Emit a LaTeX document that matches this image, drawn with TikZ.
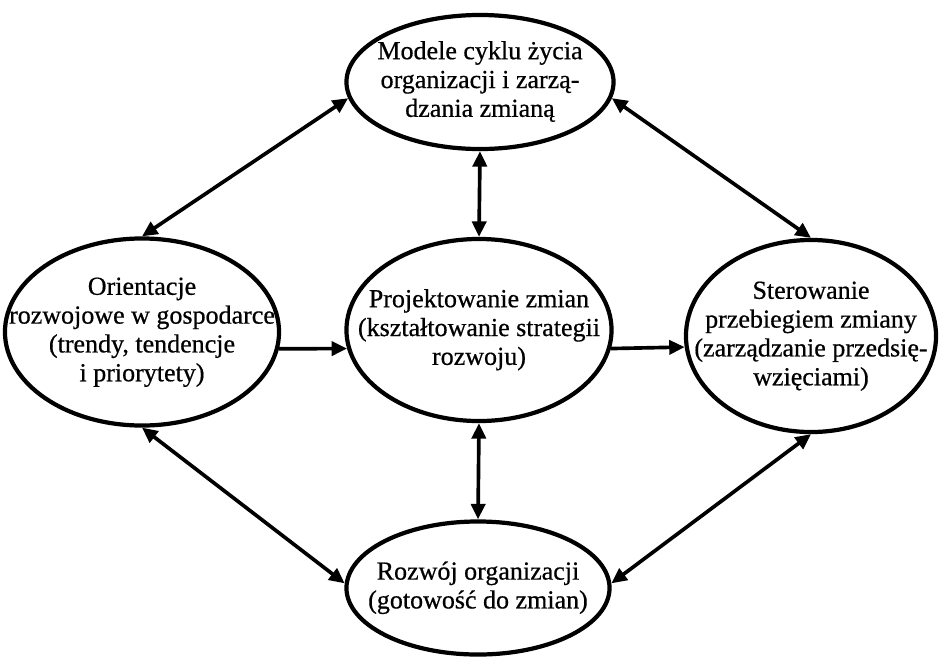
\documentclass[tikz,border=0pt]{standalone}
\usepackage{fontspec}
\setmainfont{Liberation Serif}
\newfontfamily\ovalfont{Liberation Serif}[FakeBold=0.6]
\usetikzlibrary{shapes,arrows.meta,positioning}
\newcommand{\ovaltext}[1]{\makebox[0pt]{\raisebox{-4.5pt}[0pt][0pt]{\begin{tabular}{@{}c@{}}#1\end{tabular}}}}

\begin{document}
\begin{tikzpicture}[x=0.025cm, y=-0.025cm,
  oval/.style={draw, ellipse, line width=3pt, inner sep=0pt, font=\ovalfont\fontsize{18.5}{20.5}\selectfont},
  link/.style={line width=2.6pt, -{Triangle[length=11pt,width=10pt]}},
  both/.style={link, {Triangle[length=11pt,width=10pt]}-{Triangle[length=11pt,width=10pt]}}]
\useasboundingbox (0,0) rectangle (942,660);
\node[oval, minimum width=6.675cm, minimum height=3.35cm] (t) at (480,82) {\ovaltext{Modele cyklu życia\\organizacji i zarzą-\\dzania zmianą}};
\node[oval, minimum width=6.85cm, minimum height=4.675cm] (l) at (142,332) {\ovaltext{Orientacje\\rozwojowe w gospodarce\\(trendy, tendencje\\i priorytety)}};
\node[oval, minimum width=6.625cm, minimum height=4.55cm] (m) at (479,330) {\ovaltext{Projektowanie zmian\\(kształtowanie strategii\\rozwoju)}};
\node[oval, minimum width=6.25cm, minimum height=4.8cm] (r) at (811,336) {\ovaltext{Sterowanie\\przebiegiem zmiany\\(zarządzanie przedsię-\\wzięciami)}};
\node[oval, minimum width=6.575cm, minimum height=3.325cm] (b) at (478,588) {\ovaltext{Rozwój organizacji\\(gotowość do zmian)}};

\foreach \a/\b in {t.187/l.north, t.353/r.north, t.south/m.north, m.south/b.north, l.south/b.178, r.south/b.2}
  \draw[both] (\a) -- (\b);
\draw[link] (l.353) -- (m.188);
\draw[link] (m.352) -- (r.185);
\end{tikzpicture}
\end{document}
